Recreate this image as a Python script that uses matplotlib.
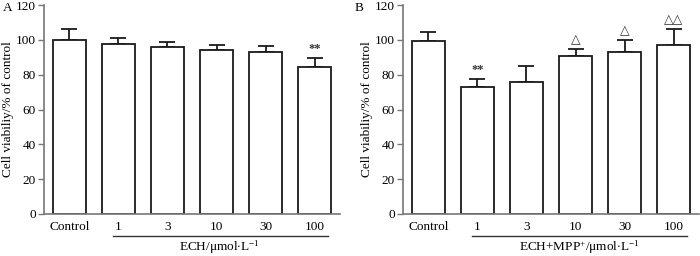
import matplotlib
matplotlib.use("Agg")
import matplotlib.pyplot as plt
import matplotlib.transforms as mtransforms

plt.rcParams['font.family'] = ['Liberation Serif', 'DejaVu Sans']
plt.rcParams['mathtext.fontset'] = 'custom'
plt.rcParams['mathtext.rm'] = 'Liberation Serif'
plt.rcParams['mathtext.it'] = 'Liberation Serif:italic'

categories = ["Control", "1", "3", "10", "30", "100"]
a_values = [100, 97.5, 96.0, 94.2, 92.8, 84.6]
a_errors = [6.0, 3.3, 2.8, 2.9, 3.6, 5.2]
a_marks = ["", "", "", "", "", "**"]
b_values = [99.5, 73.0, 76.0, 90.5, 92.9, 96.8]
b_errors = [5.0, 4.6, 9.2, 4.0, 6.8, 9.4]
b_marks = ["", "**", "", "\u25b3", "\u25b3", "\u25b3\u25b3"]
yticks = [0, 20, 40, 60, 80, 100, 120]

W, H = 700, 256
fig = plt.figure(figsize=(W / 100, H / 100), dpi=100)

def make_axes(left_px, right_px, values, errors, marks, xlabel, letter, letter_x):
    bottom_px, top_px = 214, 5
    ax = fig.add_axes([left_px / W, (H - bottom_px) / H,
                       (right_px - left_px) / W, (bottom_px - top_px) / H])
    x = list(range(len(categories)))
    ax.bar(x, values, width=0.67, color='white', edgecolor='#1a1a1a',
           linewidth=1.3, zorder=2)
    ax.errorbar(x, values, yerr=[[0] * len(errors), errors], fmt='none',
                ecolor='#1a1a1a', elinewidth=1.3, capsize=5.5, capthick=1.3,
                zorder=1)
    for xi, v, e, m in zip(x, values, errors, marks):
        if m:
            fw = 'bold' if m == '**' else 'normal'
            ax.annotate(m, (xi, v + e), xytext=(0, 2), textcoords='offset points',
                        ha='center', va='bottom', fontsize=9, fontweight=fw,
                        color='#333333')
    ax.set_xlim(-0.52, 5.52)
    ax.set_ylim(0, 120)
    ax.set_yticks(yticks)
    ax.set_xticks(x)
    ax.set_xticklabels(categories)
    ax.tick_params(axis='x', length=0, pad=5, labelsize=9.5)
    ax.tick_params(axis='y', length=4, width=1.0, color='#777777', pad=2,
                   labelsize=9.5)
    for s in ['top', 'right']:
        ax.spines[s].set_visible(False)
    for s in ['left', 'bottom']:
        ax.spines[s].set_color('#777777')
        ax.spines[s].set_linewidth(1.2)
    ax.set_ylabel("Cell viabiliy/% of control", fontsize=9.5, labelpad=1.5)
    trans = mtransforms.blended_transform_factory(ax.transData, ax.transAxes)
    ax.plot([0.88, 5.27], [-0.105, -0.105], transform=trans, color='#333333',
            linewidth=1.0, clip_on=False)
    ax.text(3.07, -0.16, xlabel, transform=trans, ha='center', va='center',
            fontsize=9.5)
    fig.text(letter_x / W, (H - 8) / H, letter, ha='left', va='center',
             fontsize=9.5)
    return ax

make_axes(44, 340, a_values, a_errors, a_marks,
          r"ECH/$\mathregular{\mu}$mol$\cdot$L$^{\mathregular{-1}}$", "A", 3)
make_axes(403, 699, b_values, b_errors, b_marks,
          r"ECH+MPP$^{\mathregular{+}}$/$\mathregular{\mu}$mol$\cdot$L$^{\mathregular{-1}}$", "B", 355)

fig.savefig("out.png", dpi=100)
